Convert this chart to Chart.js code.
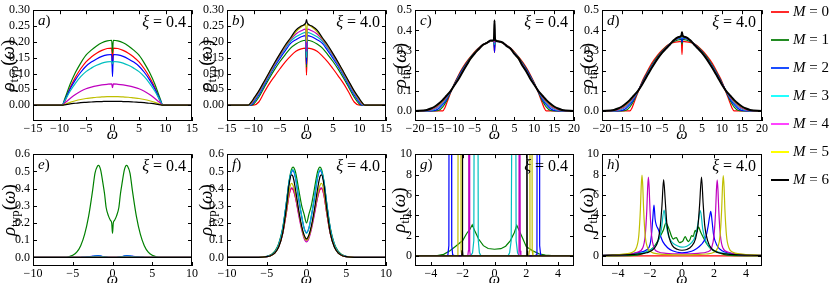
<!DOCTYPE html>
<html>
<head>
<meta charset="utf-8">
<script src="https://cdn.jsdelivr.net/npm/chart.js@4.4.1/dist/chart.umd.min.js"></script>
<style>
  body { margin: 0; width: 830px; height: 283px; overflow: hidden; background: #fff; position: relative; }
  canvas { position: absolute; }
  .leg-line { position: absolute; height: 2px; width: 18px; left: 771px; }
  .leg-text { position: absolute; left: 793px; font: 15px 'Liberation Serif', serif; color: #000; white-space: nowrap; line-height: 15px; }
</style>
</head>
<body>
<script>
// ---- data ----
const seriesNames = ['0', '1', '2', '3', '4', '5', '6'];

const ticksX15 = [-15, -10, -5, 0, 5, 10, 15];
const ticksX20 = [-20, -15, -10, -5, 0, 5, 10, 15, 20];
const ticksX10 = [-10, -5, 0, 5, 10];
const ticksX4 = [-4, -2, 0, 2, 4];
const ticksYtypTop = [0, 0.05, 0.10, 0.15, 0.20, 0.25, 0.30];
const ticksYthTop = [0, 0.1, 0.2, 0.3, 0.4, 0.5];
const ticksYtypBot = [0, 0.1, 0.2, 0.3, 0.4, 0.5, 0.6];
const ticksYthBot = [0, 2, 4, 6, 8, 10];

// a) xi = 0.4, rho_typ
const omegaA = [-15, -9.5, -9, -8, -7, -6, -5, -4, -3, -2, -1, -0.15, 0, 0.15, 1, 2, 3, 4, 5, 6, 7, 8, 9, 9.5, 15];
const rhoA = [
  [0, 0, 0.012, 0.055, 0.088, 0.115, 0.137, 0.152, 0.164, 0.173, 0.179, 0.18, 0.12, 0.18, 0.179, 0.173, 0.164, 0.152, 0.137, 0.115, 0.088, 0.055, 0.012, 0, 0],
  [0, 0, 0.02, 0.066, 0.103, 0.133, 0.158, 0.174, 0.187, 0.197, 0.203, 0.205, 0.165, 0.205, 0.203, 0.197, 0.187, 0.174, 0.158, 0.133, 0.103, 0.066, 0.02, 0, 0],
  [0, 0, 0.016, 0.051, 0.08, 0.104, 0.123, 0.136, 0.146, 0.154, 0.159, 0.16, 0.09, 0.16, 0.159, 0.154, 0.146, 0.136, 0.123, 0.104, 0.08, 0.051, 0.016, 0, 0],
  [0, 0, 0.014, 0.044, 0.069, 0.09, 0.106, 0.117, 0.126, 0.133, 0.137, 0.138, 0.13, 0.138, 0.137, 0.133, 0.126, 0.117, 0.106, 0.09, 0.069, 0.044, 0.014, 0, 0],
  [0, 0, 0.007, 0.021, 0.034, 0.044, 0.052, 0.057, 0.061, 0.064, 0.066, 0.067, 0.055, 0.067, 0.066, 0.064, 0.061, 0.057, 0.052, 0.044, 0.034, 0.021, 0.007, 0, 0],
  [0, 0, 0.003, 0.009, 0.014, 0.018, 0.021, 0.023, 0.025, 0.026, 0.027, 0.027, 0.027, 0.027, 0.027, 0.026, 0.025, 0.023, 0.021, 0.018, 0.014, 0.009, 0.003, 0, 0],
  [0, 0, 0.001, 0.004, 0.006, 0.008, 0.009, 0.01, 0.011, 0.0115, 0.012, 0.012, 0.012, 0.012, 0.012, 0.0115, 0.011, 0.01, 0.009, 0.008, 0.006, 0.004, 0.001, 0, 0]
];

// b) xi = 4.0, rho_typ
const omegaB = [-15, -11, -10.5, -10, -9, -8, -7, -6, -5, -4, -3, -2, -1, -0.15, 0, 0.15, 1, 2, 3, 4, 5, 6, 7, 8, 9, 10, 10.5, 11, 15];
const rhoB = [
  [0, 0, 0, 0, 0.01, 0.04, 0.068, 0.092, 0.115, 0.137, 0.155, 0.17, 0.178, 0.18, 0.095, 0.18, 0.178, 0.17, 0.155, 0.137, 0.115, 0.092, 0.068, 0.04, 0.01, 0, 0, 0, 0],
  [0, 0, 0, 0.003, 0.025, 0.055, 0.085, 0.113, 0.138, 0.16, 0.18, 0.193, 0.202, 0.205, 0.12, 0.205, 0.202, 0.193, 0.18, 0.16, 0.138, 0.113, 0.085, 0.055, 0.025, 0.003, 0, 0, 0],
  [0, 0, 0, 0.008, 0.032, 0.062, 0.093, 0.122, 0.148, 0.172, 0.195, 0.207, 0.216, 0.22, 0.13, 0.22, 0.216, 0.207, 0.195, 0.172, 0.148, 0.122, 0.093, 0.062, 0.032, 0.008, 0, 0, 0],
  [0, 0, 0.002, 0.012, 0.036, 0.066, 0.097, 0.127, 0.154, 0.179, 0.202, 0.216, 0.225, 0.23, 0.15, 0.23, 0.225, 0.216, 0.202, 0.179, 0.154, 0.127, 0.097, 0.066, 0.036, 0.012, 0.002, 0, 0],
  [0, 0, 0.004, 0.015, 0.04, 0.07, 0.1, 0.13, 0.158, 0.184, 0.207, 0.225, 0.235, 0.24, 0.17, 0.24, 0.235, 0.225, 0.207, 0.184, 0.158, 0.13, 0.1, 0.07, 0.04, 0.015, 0.004, 0, 0],
  [0, 0, 0.006, 0.018, 0.043, 0.073, 0.103, 0.133, 0.161, 0.187, 0.21, 0.232, 0.247, 0.255, 0.2, 0.255, 0.247, 0.232, 0.21, 0.187, 0.161, 0.133, 0.103, 0.073, 0.043, 0.018, 0.006, 0, 0],
  [0, 0, 0.008, 0.02, 0.045, 0.075, 0.105, 0.135, 0.163, 0.19, 0.213, 0.237, 0.25, 0.26, 0.27, 0.26, 0.25, 0.237, 0.213, 0.19, 0.163, 0.135, 0.105, 0.075, 0.045, 0.02, 0.008, 0, 0]
];

// c) xi = 0.4, rho_th
const omegaC = [-20, -17, -16, -15, -14, -13, -12.5, -12, -11, -10, -9, -8, -7, -6, -5, -4, -3, -2, -1, -0.15, 0, 0.15, 1, 2, 3, 4, 5, 6, 7, 8, 9, 10, 11, 12, 12.5, 13, 14, 15, 16, 17, 20];
const rhoC = [
  [0, 0, 0, 0, 0, 0, 0.015, 0.04, 0.092, 0.14, 0.18, 0.215, 0.245, 0.27, 0.293, 0.312, 0.327, 0.338, 0.345, 0.348, 0.29, 0.348, 0.345, 0.338, 0.327, 0.312, 0.293, 0.27, 0.245, 0.215, 0.18, 0.14, 0.092, 0.04, 0.015, 0, 0, 0, 0, 0, 0],
  [0, 0, 0, 0, 0.003, 0.02, 0.035, 0.052, 0.095, 0.137, 0.175, 0.21, 0.24, 0.267, 0.29, 0.31, 0.326, 0.338, 0.346, 0.349, 0.31, 0.349, 0.346, 0.338, 0.326, 0.31, 0.29, 0.267, 0.24, 0.21, 0.175, 0.137, 0.095, 0.052, 0.035, 0.02, 0.003, 0, 0, 0, 0],
  [0, 0, 0, 0.002, 0.012, 0.032, 0.045, 0.06, 0.097, 0.135, 0.172, 0.206, 0.236, 0.264, 0.288, 0.309, 0.326, 0.338, 0.346, 0.349, 0.29, 0.349, 0.346, 0.338, 0.326, 0.309, 0.288, 0.264, 0.236, 0.206, 0.172, 0.135, 0.097, 0.06, 0.045, 0.032, 0.012, 0.002, 0, 0, 0],
  [0, 0, 0.002, 0.008, 0.02, 0.04, 0.052, 0.066, 0.099, 0.133, 0.168, 0.202, 0.233, 0.262, 0.287, 0.309, 0.325, 0.338, 0.347, 0.35, 0.33, 0.35, 0.347, 0.338, 0.325, 0.309, 0.287, 0.262, 0.233, 0.202, 0.168, 0.133, 0.099, 0.066, 0.052, 0.04, 0.02, 0.008, 0.002, 0, 0],
  [0, 0.001, 0.005, 0.013, 0.027, 0.046, 0.057, 0.07, 0.1, 0.132, 0.165, 0.199, 0.231, 0.261, 0.286, 0.308, 0.325, 0.338, 0.347, 0.35, 0.34, 0.35, 0.347, 0.338, 0.325, 0.308, 0.286, 0.261, 0.231, 0.199, 0.165, 0.132, 0.1, 0.07, 0.057, 0.046, 0.027, 0.013, 0.005, 0.001, 0],
  [0, 0.003, 0.009, 0.018, 0.032, 0.05, 0.062, 0.074, 0.1, 0.131, 0.162, 0.197, 0.229, 0.26, 0.285, 0.308, 0.325, 0.338, 0.347, 0.35, 0.36, 0.35, 0.347, 0.338, 0.325, 0.308, 0.285, 0.26, 0.229, 0.197, 0.162, 0.131, 0.1, 0.074, 0.062, 0.05, 0.032, 0.018, 0.009, 0.003, 0],
  [0, 0.005, 0.012, 0.022, 0.037, 0.055, 0.066, 0.077, 0.1, 0.13, 0.16, 0.195, 0.228, 0.26, 0.285, 0.306, 0.327, 0.336, 0.349, 0.352, 0.45, 0.353, 0.345, 0.34, 0.323, 0.31, 0.283, 0.262, 0.226, 0.196, 0.16, 0.13, 0.1, 0.077, 0.066, 0.055, 0.037, 0.022, 0.012, 0.005, 0]
];

// d) xi = 4.0, rho_th
const omegaD = [-20, -17, -16, -15, -14, -13, -12.5, -12, -11, -10, -9, -8, -7, -6, -5, -4, -3, -2, -1, -0.15, 0, 0.15, 1, 2, 3, 4, 5, 6, 7, 8, 9, 10, 11, 12, 12.5, 13, 14, 15, 16, 17, 20];
const rhoD = [
  [0, 0, 0, 0, 0, 0, 0.015, 0.04, 0.093, 0.145, 0.185, 0.222, 0.253, 0.28, 0.302, 0.32, 0.335, 0.34, 0.343, 0.345, 0.28, 0.345, 0.343, 0.34, 0.335, 0.32, 0.302, 0.28, 0.253, 0.222, 0.185, 0.145, 0.093, 0.04, 0.015, 0, 0, 0, 0, 0, 0],
  [0, 0, 0, 0, 0.003, 0.02, 0.035, 0.053, 0.097, 0.14, 0.178, 0.213, 0.245, 0.273, 0.297, 0.317, 0.333, 0.345, 0.352, 0.355, 0.33, 0.355, 0.352, 0.345, 0.333, 0.317, 0.297, 0.273, 0.245, 0.213, 0.178, 0.14, 0.097, 0.053, 0.035, 0.02, 0.003, 0, 0, 0, 0],
  [0, 0, 0, 0.002, 0.012, 0.032, 0.045, 0.06, 0.099, 0.137, 0.174, 0.209, 0.24, 0.269, 0.293, 0.314, 0.332, 0.348, 0.358, 0.362, 0.34, 0.362, 0.358, 0.348, 0.332, 0.314, 0.293, 0.269, 0.24, 0.209, 0.174, 0.137, 0.099, 0.06, 0.045, 0.032, 0.012, 0.002, 0, 0, 0],
  [0, 0, 0.002, 0.008, 0.02, 0.04, 0.052, 0.066, 0.1, 0.135, 0.17, 0.206, 0.237, 0.266, 0.291, 0.313, 0.331, 0.349, 0.361, 0.366, 0.36, 0.366, 0.361, 0.349, 0.331, 0.313, 0.291, 0.266, 0.237, 0.206, 0.17, 0.135, 0.1, 0.066, 0.052, 0.04, 0.02, 0.008, 0.002, 0, 0],
  [0, 0.001, 0.005, 0.013, 0.027, 0.046, 0.057, 0.07, 0.1, 0.133, 0.168, 0.203, 0.235, 0.264, 0.29, 0.312, 0.331, 0.35, 0.363, 0.369, 0.37, 0.369, 0.363, 0.35, 0.331, 0.312, 0.29, 0.264, 0.235, 0.203, 0.168, 0.133, 0.1, 0.07, 0.057, 0.046, 0.027, 0.013, 0.005, 0.001, 0],
  [0, 0.003, 0.009, 0.018, 0.032, 0.05, 0.062, 0.074, 0.1, 0.131, 0.166, 0.201, 0.233, 0.263, 0.289, 0.311, 0.33, 0.351, 0.365, 0.372, 0.38, 0.372, 0.365, 0.351, 0.33, 0.311, 0.289, 0.263, 0.233, 0.201, 0.166, 0.131, 0.1, 0.074, 0.062, 0.05, 0.032, 0.018, 0.009, 0.003, 0],
  [0, 0.005, 0.012, 0.022, 0.037, 0.055, 0.066, 0.077, 0.1, 0.13, 0.165, 0.2, 0.232, 0.262, 0.288, 0.31, 0.33, 0.352, 0.366, 0.374, 0.39, 0.374, 0.366, 0.352, 0.33, 0.31, 0.288, 0.262, 0.232, 0.2, 0.165, 0.13, 0.1, 0.077, 0.066, 0.055, 0.037, 0.022, 0.012, 0.005, 0]
];

// e) xi = 0.4, rho_typ, low frequencies
const omegaE = [-10, -6, -5.5, -5, -4.5, -4, -3.5, -3, -2.5, -2.2, -1.9, -1.75, -1.5, -1.2, -1, -0.8, -0.5, -0.25, -0.1, 0, 0.1, 0.25, 0.5, 0.8, 1, 1.2, 1.5, 1.75, 1.9, 2.2, 2.5, 3, 3.5, 4, 4.5, 5, 5.5, 6, 10];
const rhoE = [
  [0, 0, 0, 0, 0, 0, 0, 0, 0, 0, 0, 0, 0, 0, 0, 0, 0, 0, 0, 0, 0, 0, 0, 0, 0, 0, 0, 0, 0, 0, 0, 0, 0, 0, 0, 0, 0, 0, 0],
  [0, 0, 0.004, 0.012, 0.03, 0.068, 0.135, 0.24, 0.39, 0.49, 0.53, 0.535, 0.51, 0.43, 0.37, 0.29, 0.24, 0.215, 0.2, 0.14, 0.2, 0.215, 0.24, 0.29, 0.37, 0.43, 0.51, 0.535, 0.53, 0.49, 0.39, 0.24, 0.135, 0.068, 0.03, 0.012, 0.004, 0, 0],
  [0, 0, 0, 0, 0, 0.001, 0.002, 0.004, 0.007, 0.009, 0.01, 0.01, 0.009, 0.005, 0.003, 0.002, 0.001, 0.001, 0.001, 0.001, 0.001, 0.001, 0.001, 0.002, 0.003, 0.005, 0.009, 0.01, 0.01, 0.009, 0.007, 0.004, 0.002, 0.001, 0, 0, 0, 0, 0],
  [0, 0, 0, 0, 0, 0.001, 0.002, 0.003, 0.005, 0.007, 0.008, 0.008, 0.007, 0.004, 0.003, 0.002, 0.001, 0.001, 0.001, 0.001, 0.001, 0.001, 0.001, 0.002, 0.003, 0.004, 0.007, 0.008, 0.008, 0.007, 0.005, 0.003, 0.002, 0.001, 0, 0, 0, 0, 0],
  [0, 0, 0, 0, 0, 0, 0, 0, 0, 0, 0, 0, 0, 0, 0, 0, 0, 0, 0, 0, 0, 0, 0, 0, 0, 0, 0, 0, 0, 0, 0, 0, 0, 0, 0, 0, 0, 0, 0],
  [0, 0, 0, 0, 0, 0, 0, 0, 0, 0, 0, 0, 0, 0, 0, 0, 0, 0, 0, 0, 0, 0, 0, 0, 0, 0, 0, 0, 0, 0, 0, 0, 0, 0, 0, 0, 0, 0, 0],
  [0, 0, 0, 0, 0, 0, 0, 0, 0, 0, 0, 0, 0, 0, 0, 0, 0, 0, 0, 0, 0, 0, 0, 0, 0, 0, 0, 0, 0, 0, 0, 0, 0, 0, 0, 0, 0, 0, 0]
];

// f) xi = 4.0, rho_typ, low frequencies
const omegaF = [-10, -6, -5, -4.5, -4, -3.5, -3, -2.5, -2.2, -1.9, -1.7, -1.4, -1, -0.6, -0.3, 0, 0.3, 0.6, 1, 1.4, 1.7, 1.9, 2.2, 2.5, 3, 3.5, 4, 4.5, 5, 6, 10];
const rhoF = [
  [0, 0, 0.004, 0.01, 0.026, 0.064, 0.14, 0.27, 0.36, 0.4, 0.395, 0.35, 0.26, 0.17, 0.12, 0.1, 0.12, 0.17, 0.26, 0.35, 0.395, 0.4, 0.36, 0.27, 0.14, 0.064, 0.026, 0.01, 0.004, 0, 0],
  [0, 0, 0.006, 0.015, 0.035, 0.08, 0.17, 0.33, 0.44, 0.51, 0.525, 0.5, 0.4, 0.3, 0.25, 0.2, 0.25, 0.3, 0.4, 0.5, 0.525, 0.51, 0.44, 0.33, 0.17, 0.08, 0.035, 0.015, 0.006, 0, 0],
  [0, 0, 0.005, 0.012, 0.03, 0.073, 0.162, 0.325, 0.435, 0.495, 0.505, 0.465, 0.345, 0.235, 0.17, 0.145, 0.17, 0.235, 0.345, 0.465, 0.505, 0.495, 0.435, 0.325, 0.162, 0.073, 0.03, 0.012, 0.005, 0, 0],
  [0, 0, 0.005, 0.012, 0.03, 0.075, 0.165, 0.33, 0.44, 0.5, 0.51, 0.47, 0.35, 0.24, 0.17, 0.14, 0.17, 0.24, 0.35, 0.47, 0.51, 0.5, 0.44, 0.33, 0.165, 0.075, 0.03, 0.012, 0.005, 0, 0],
  [0, 0, 0.004, 0.01, 0.025, 0.062, 0.135, 0.27, 0.36, 0.405, 0.4, 0.35, 0.25, 0.16, 0.11, 0.09, 0.11, 0.16, 0.25, 0.35, 0.4, 0.405, 0.36, 0.27, 0.135, 0.062, 0.025, 0.01, 0.004, 0, 0],
  [0, 0, 0.004, 0.01, 0.025, 0.062, 0.14, 0.28, 0.38, 0.43, 0.42, 0.37, 0.27, 0.17, 0.12, 0.1, 0.12, 0.17, 0.27, 0.37, 0.42, 0.43, 0.38, 0.28, 0.14, 0.062, 0.025, 0.01, 0.004, 0, 0],
  [0, 0, 0.004, 0.01, 0.025, 0.06, 0.14, 0.3, 0.42, 0.48, 0.47, 0.4, 0.28, 0.18, 0.13, 0.108, 0.13, 0.18, 0.28, 0.4, 0.47, 0.48, 0.42, 0.3, 0.14, 0.06, 0.025, 0.01, 0.004, 0, 0]
];

// g) xi = 0.4, rho_th, low frequencies (each series on its own omega grid)
const omegaG = [
  [-5, 5],
  [-5, -3.6, -3.2, -2.8, -2.4, -2.0, -1.75, -1.55, -1.4, -1.25, -1.0, -0.7, -0.4, 0, 0.4, 0.7, 1.0, 1.25, 1.4, 1.55, 1.75, 2.0, 2.4, 2.8, 3.2, 3.6, 5],
  [-5, -3.0, -2.93, -2.87, -2.84, -2.72, -2.69, -2.63, -2.5, 2.55, 2.62, 2.67, 2.7, 2.81, 2.84, 2.9, 3.0, 5],
  [-5, -1.5, -1.38, -1.3, -1.24, -1.08, -1.02, -0.95, -0.85, 0.85, 0.95, 1.05, 1.18, 1.3, 1.36, 1.45, 1.55, 5],
  [-5, -1.68, -1.64, -1.62, -1.58, -1.56, -1.52, 1.5, 1.54, 1.56, 1.6, 1.62, 1.66, 5],
  [-5, -2.35, -2.3, -2.27, -2.13, -2.1, -2.05, 2.15, 2.2, 2.23, 2.34, 2.37, 2.42, 5],
  [-5, -2.06, -2.04, -2.02, -2.0, -1.98, 2.0, 2.02, 2.04, 2.06, 2.08, 5]
];
const rhoG = [
  [0, 0],
  [0, 0.02, 0.15, 0.5, 1.0, 1.5, 2.2, 2.6, 3.05, 2.5, 1.65, 1.0, 0.72, 0.65, 0.7, 0.95, 1.5, 2.3, 3.0, 2.5, 1.8, 0.9, 0.5, 0.2, 0.08, 0.02, 0],
  [0, 0, 0.1, 1, 40, 40, 1, 0.1, 0, 0, 0.1, 1, 40, 40, 1, 0.1, 0, 0],
  [0, 0, 0.3, 1.5, 40, 40, 1.5, 0.3, 0, 0, 0.3, 1.5, 40, 40, 1.5, 0.3, 0, 0],
  [0, 0, 0.5, 40, 40, 0.5, 0, 0, 0.5, 40, 40, 0.5, 0, 0],
  [0, 0, 0.5, 40, 40, 0.5, 0, 0, 0.5, 40, 40, 0.5, 0, 0],
  [0, 0, 0.5, 40, 0.5, 0, 0, 0.5, 40, 0.5, 0, 0]
];

// h) xi = 4.0, rho_th, low frequencies
const omegaH = [
  [-5, 5],
  [-5, -3.0, -2.6, -2.2, -1.8, -1.5, -1.3, -1.15, -1.0, -0.88, -0.78, -0.65, -0.55, -0.45, -0.35, -0.25, -0.15, -0.05, 0.05, 0.2, 0.3, 0.4, 0.5, 0.6, 0.7, 0.82, 0.92, 1.03, 1.15, 1.3, 1.5, 1.8, 2.2, 2.6, 3.0, 5],
  [-5, -3.5, -2.8, -2.2, -2.0, -1.9, -1.82, -1.75, -1.68, -1.6, -1.48, -1.35, -1.2, -0.9, -0.6, 0, 0.6, 0.9, 1.2, 1.48, 1.62, 1.72, 1.8, 1.88, 1.97, 2.2, 2.5, 3.0, 3.8, 5],
  [-5, -3, -2.2, -1.8, -1.5, -1.3, -1.12, -1.0, -0.85, -0.6, -0.3, 0, 0.3, 0.6, 0.85, 1.0, 1.15, 1.3, 1.5, 1.8, 2.2, 3, 5],
  [-5, -3.5, -2.8, -2.45, -2.3, -2.2, -2.15, -2.1, -2.05, -2.0, -1.9, -1.75, -1.5, -1.0, 0, 1.0, 1.6, 1.85, 2.0, 2.1, 2.15, 2.2, 2.25, 2.3, 2.4, 2.55, 2.9, 3.6, 5],
  [-5, -3.5, -3.1, -2.85, -2.7, -2.6, -2.55, -2.5, -2.45, -2.4, -2.3, -2.15, -1.9, -1.5, -0.8, 0, 0.8, 1.5, 2.0, 2.23, 2.38, 2.48, 2.53, 2.58, 2.63, 2.68, 2.78, 2.93, 3.18, 3.6, 5],
  [-5, -3.0, -2.2, -1.75, -1.5, -1.35, -1.25, -1.15, -1.05, -0.95, -0.8, -0.6, -0.3, 0, 0.3, 0.6, 0.85, 1.0, 1.1, 1.22, 1.32, 1.42, 1.6, 1.85, 2.3, 3.0, 5]
];
const rhoH = [
  [0, 0],
  [0, 0.05, 0.15, 0.4, 0.8, 1.5, 2.1, 2.6, 3.25, 2.9, 2.5, 1.9, 1.65, 1.75, 1.8, 1.5, 1.3, 1.35, 1.45, 1.9, 1.6, 1.4, 1.6, 2.0, 1.9, 2.5, 2.3, 2.85, 2.4, 1.9, 1.3, 0.7, 0.35, 0.15, 0.05, 0],
  [0.05, 0.12, 0.3, 0.6, 1.1, 2.2, 3.8, 5.0, 3.6, 3.0, 2.6, 2.0, 1.4, 0.8, 0.5, 0.3, 0.45, 0.7, 1.1, 1.8, 2.8, 3.8, 4.37, 3.4, 2.1, 1.0, 0.5, 0.25, 0.1, 0.05],
  [0.05, 0.2, 0.4, 0.75, 1.4, 2.5, 4.5, 3.2, 2.0, 1.3, 1.0, 0.85, 0.95, 1.3, 2.0, 3.2, 4.45, 2.6, 1.4, 0.75, 0.4, 0.2, 0.05],
  [0.05, 0.15, 0.35, 0.8, 2.0, 4.5, 6.6, 7.75, 6.6, 4.5, 2.0, 0.8, 0.4, 0.25, 0.2, 0.25, 0.4, 0.8, 2.0, 4.4, 6.4, 7.47, 6.4, 4.4, 2.0, 0.8, 0.35, 0.15, 0.05],
  [0.05, 0.2, 0.35, 0.8, 2.0, 4.6, 6.8, 7.95, 6.8, 4.6, 2.0, 0.8, 0.35, 0.2, 0.12, 0.1, 0.12, 0.18, 0.35, 0.8, 2.0, 4.6, 6.8, 7.9, 6.8, 4.6, 2.0, 0.8, 0.35, 0.2, 0.05],
  [0.03, 0.15, 0.3, 0.7, 1.5, 3.0, 5.0, 7.5, 5.5, 3.2, 1.8, 1.0, 0.65, 0.55, 0.62, 0.95, 1.7, 3.0, 5.0, 7.75, 5.2, 3.0, 1.5, 0.7, 0.3, 0.15, 0.03]
];

// ---- styling / layout ----
const lineColors = ['#ff0000', '#008000', '#0000ff', '#00bfbf', '#bf00bf', '#bfbf00', '#000000'];
const legendColors = ['#ff2a2a', '#228b22', '#1a4dff', '#22ffff', '#ff44ff', '#ffff00', '#000000'];
const SERIF = "'Liberation Serif', 'Times New Roman', serif";

const panels = [
  { tag: 'a', xi: '0.4', sub: 'typ', box: [33, 5, 192, 121], omega: omegaA, rho: rhoA, xr: [-15, 15], xt: ticksX15, yr: [-0.05, 0.30], yt: ticksYtypTop, yd: 2, yOff: 25, smooth: true },
  { tag: 'b', xi: '4.0', sub: 'typ', box: [227, 5, 386, 121], omega: omegaB, rho: rhoB, xr: [-15, 15], xt: ticksX15, yr: [-0.05, 0.30], yt: ticksYtypTop, yd: 2, yOff: 21, smooth: true },
  { tag: 'c', xi: '0.4', sub: 'th', box: [415, 5, 574, 121], omega: omegaC, rho: rhoC, xr: [-20, 20], xt: ticksX20, yr: [-0.05, 0.5], yt: ticksYthTop, yd: 1, yOff: 15, smooth: true, thickBlack: true },
  { tag: 'd', xi: '4.0', sub: 'th', box: [602, 5, 762, 121], omega: omegaD, rho: rhoD, xr: [-20, 20], xt: ticksX20, yr: [-0.05, 0.5], yt: ticksYthTop, yd: 1, yOff: 15, smooth: true, thickBlack: true },
  { tag: 'e', xi: '0.4', sub: 'typ', box: [33, 149, 192, 266], omega: omegaE, rho: rhoE, xr: [-10, 10], xt: ticksX10, yr: [-0.05, 0.6], yt: ticksYtypBot, yd: 1, yOff: 24, smooth: true },
  { tag: 'f', xi: '4.0', sub: 'typ', box: [227, 149, 386, 266], omega: omegaF, rho: rhoF, xr: [-10, 10], xt: ticksX10, yr: [-0.05, 0.6], yt: ticksYtypBot, yd: 1, yOff: 21, smooth: true },
  { tag: 'g', xi: '0.4', sub: 'th', box: [415, 149, 574, 266], omega: omegaG, rho: rhoG, xr: [-5, 5], xt: ticksX4, yr: [-1, 10], yt: ticksYthBot, yd: 0, yOff: 16, smooth: false },
  { tag: 'h', xi: '4.0', sub: 'th', box: [602, 149, 762, 266], omega: omegaH, rho: rhoH, xr: [-5, 5], xt: ticksX4, yr: [-1, 10], yt: ticksYthBot, yd: 0, yOff: 15, smooth: true }
];

const PAD_L = 45, PAD_T = 5, PAD_R = 8, PAD_B = 32;

function fmt(v, dec) {
  const s = Math.abs(v).toFixed(dec);
  return v < -1e-9 ? '\u2212' + s : s;
}

function drawRuns(ctx, x, y, runs, align) {
  let total = 0;
  runs.forEach(r => { ctx.font = r.font; r.w = ctx.measureText(r.text).width; total += r.w; });
  let cx = align === 'right' ? x - total : align === 'center' ? x - total / 2 : x;
  runs.forEach(r => {
    ctx.font = r.font;
    ctx.fillText(r.text, cx, y + (r.dy || 0));
    cx += r.w;
  });
}

const framePlugin = {
  id: 'frame',
  afterDatasetsDraw(chart, args, opts) {
    const p = opts.panel;
    const { ctx, chartArea } = chart;
    const { left, top, right, bottom } = chartArea;
    const xs = chart.scales.x, ys = chart.scales.y;
    ctx.save();
    ctx.strokeStyle = '#000';
    ctx.lineWidth = 1;
    ctx.beginPath();
    p.xt.forEach(v => {
      const px = Math.round(xs.getPixelForValue(v)) + 0.5;
      ctx.moveTo(px, bottom); ctx.lineTo(px, bottom - 4);
      ctx.moveTo(px, top); ctx.lineTo(px, top + 4);
    });
    p.yt.forEach(v => {
      const py = Math.round(ys.getPixelForValue(v)) + 0.5;
      ctx.moveTo(left, py); ctx.lineTo(left + 4, py);
      ctx.moveTo(right, py); ctx.lineTo(right - 4, py);
    });
    ctx.stroke();
    ctx.strokeRect(Math.round(left) + 0.5, Math.round(top) + 0.5, Math.round(right - left) - 1, Math.round(bottom - top) - 1);

    ctx.fillStyle = '#000';
    ctx.textBaseline = 'alphabetic';
    // panel tag, e.g. "a)"
    drawRuns(ctx, left + 5, top + 15, [
      { text: p.tag, font: 'italic 15px ' + SERIF },
      { text: ')', font: '15px ' + SERIF }
    ], 'left');
    // xi label
    drawRuns(ctx, right - 6, top + 17, [
      { text: '\u03BE', font: 'italic 16px ' + SERIF },
      { text: ' = ' + p.xi, font: '16px ' + SERIF }
    ], 'right');
    // x axis title
    drawRuns(ctx, (left + right) / 2, bottom + 18, [
      { text: '\u03C9', font: 'italic 16px ' + SERIF }
    ], 'center');
    // y axis title, rotated
    ctx.translate(left - p.yOff, (top + bottom) / 2);
    ctx.rotate(-Math.PI / 2);
    drawRuns(ctx, 0, 6, [
      { text: '\u03C1', font: 'italic 19px ' + SERIF },
      { text: p.sub, font: '13px ' + SERIF, dy: 4 },
      { text: '(', font: '19px ' + SERIF },
      { text: '\u03C9', font: 'italic 19px ' + SERIF },
      { text: ')', font: '19px ' + SERIF }
    ], 'center');
    ctx.restore();
  }
};

panels.forEach(p => {
  const [L, T, R, B] = p.box;
  const cv = document.createElement('canvas');
  const w = (R - L) + PAD_L + PAD_R, h = (B - T) + PAD_T + PAD_B;
  cv.width = w; cv.height = h;
  cv.style.left = (L - PAD_L) + 'px';
  cv.style.top = (T - PAD_T) + 'px';
  cv.style.width = w + 'px'; cv.style.height = h + 'px';
  document.body.appendChild(cv);

  const datasets = seriesNames.map((name, m) => {
    const xs = Array.isArray(p.omega[0]) ? p.omega[m] : p.omega;
    return {
      label: 'M = ' + name,
      data: xs.map((x, i) => ({ x: x, y: p.rho[m][i] })),
      borderColor: lineColors[m],
      borderWidth: (p.thickBlack && m === 6) ? 2 : 1.2,
      pointRadius: 0,
      fill: false,
      tension: 0,
      cubicInterpolationMode: p.smooth ? 'monotone' : 'default',
      order: 6 - m
    };
  });

  new Chart(cv.getContext('2d'), {
    type: 'line',
    data: { datasets },
    plugins: [framePlugin],
    options: {
      responsive: false,
      animation: false,
      devicePixelRatio: 1,
      events: [],
      parsing: false,
      layout: { padding: { left: 0, top: PAD_T, right: PAD_R, bottom: 0 } },
      plugins: {
        legend: { display: false },
        tooltip: { enabled: false },
        frame: { panel: p }
      },
      scales: {
        x: {
          type: 'linear',
          min: p.xr[0], max: p.xr[1],
          grid: { display: false, drawTicks: false },
          border: { display: false },
          afterBuildTicks: s => { s.ticks = p.xt.map(v => ({ value: v })); },
          afterFit: s => { s.height = PAD_B; },
          ticks: {
            autoSkip: false, maxRotation: 0, padding: 1, color: '#000',
            font: { family: SERIF, size: 12 },
            callback: v => fmt(v, 0)
          }
        },
        y: {
          type: 'linear',
          min: p.yr[0], max: p.yr[1],
          grid: { display: false, drawTicks: false },
          border: { display: false },
          afterBuildTicks: s => { s.ticks = p.yt.map(v => ({ value: v })); },
          afterFit: s => { s.width = PAD_L; },
          ticks: {
            autoSkip: false, padding: 3, color: '#000',
            font: { family: SERIF, size: 12 },
            callback: v => fmt(v, p.yd)
          }
        }
      }
    }
  });
});

// legend
seriesNames.forEach((name, m) => {
  const cy = 12 + 28 * m;
  const ln = document.createElement('div');
  ln.className = 'leg-line';
  ln.style.top = (cy - 1) + 'px';
  ln.style.background = legendColors[m];
  document.body.appendChild(ln);
  const tx = document.createElement('div');
  tx.className = 'leg-text';
  tx.style.top = (cy - 8) + 'px';
  tx.innerHTML = '<i>M</i> = ' + name;
  document.body.appendChild(tx);
});
</script>
</body>
</html>
